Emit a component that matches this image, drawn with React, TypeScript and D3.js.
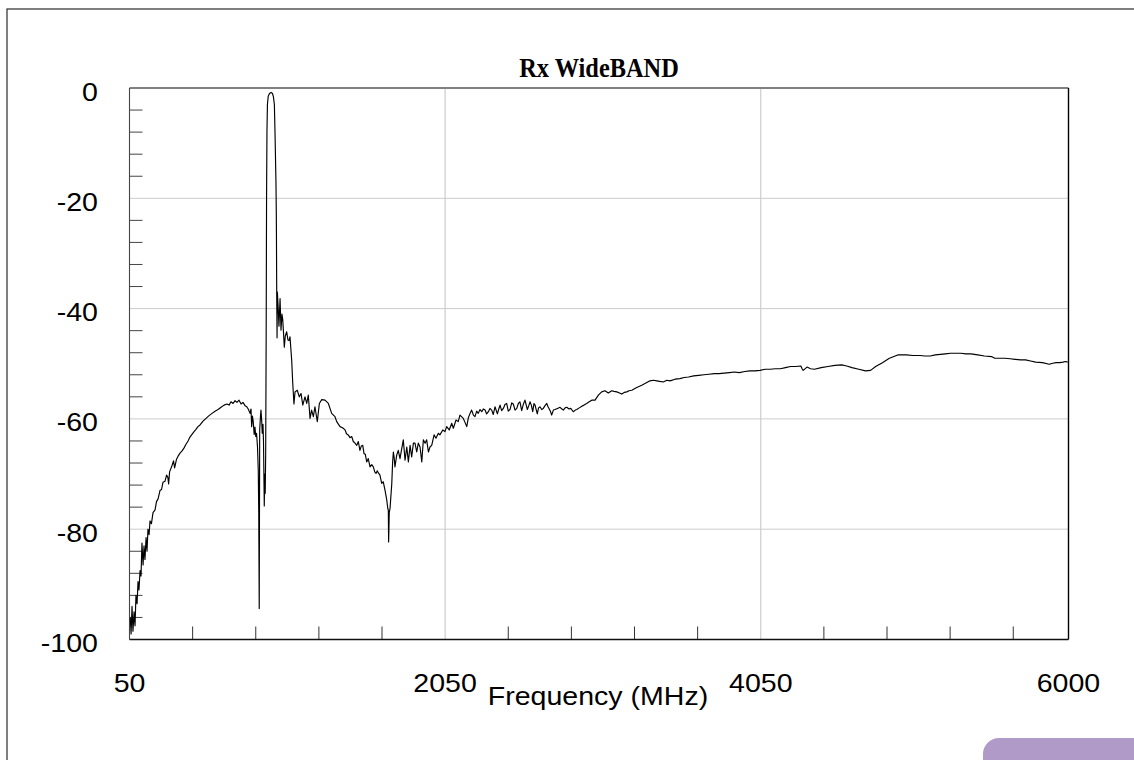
import React from 'react';
import * as d3 from 'd3';

const chartTitle = 'Rx WideBAND';
const xAxisTitle = 'Frequency (MHz)';
const xDomain: [number, number] = [50, 6000];
const yDomain: [number, number] = [-100, 0];
const xTickLabels = [50, 2050, 4050, 6000];
const xGridValues = [2050, 4050];
const xMinorTicks = [450, 850, 1250, 1650, 2450, 2850, 3250, 3650, 4450, 4850, 5250, 5650];
const yTickLabels = [0, -20, -40, -60, -80, -100];
const yGridValues = [-20, -40, -60, -80];
const yMinorTicks = [-4, -8, -12, -16, -24, -28, -32, -36, -44, -48, -52, -56, -64, -68, -72, -76, -84, -88, -92, -96];

// [frequency MHz, level dB]
const lowSkirt: [number, number][] = [
  [55, -96], [60, -99], [66, -94], [72, -98.5], [79, -95], [85, -97.5], [91, -92], [98, -93.5],
  [104, -89.5], [110, -91], [117, -87.5], [123, -88.5], [129, -82.5], [136, -86.5], [142, -83],
  [148, -85.5], [155, -81.5], [161, -84], [167, -80], [174, -81], [180, -78.5], [189, -79],
  [199, -77], [212, -76.5], [221, -75], [231, -74.5], [243, -73], [253, -72.8], [262, -71.5],
  [275, -71.3], [285, -70.2], [293, -70.6], [298, -71.8], [304, -69.6], [319, -68.5], [329, -67.6],
  [336, -68.9], [348, -67.3], [357, -66.8], [370, -66.2], [383, -65.8], [395, -65.3], [408, -64.6],
  [421, -64], [433, -63.3], [446, -62.8], [459, -62.3], [471, -61.9], [484, -61.4], [497, -61.1],
  [516, -60.4], [535, -59.9], [554, -59.4], [573, -59.0], [592, -58.6], [611, -58.3], [630, -57.9],
  [649, -57.5], [668, -57.3], [681, -57.5], [693, -56.9], [706, -57.2], [719, -56.7], [731, -57.0],
  [744, -56.6], [757, -57.3], [769, -57.0], [782, -57.6], [793, -57.8], [804, -58.3], [814, -59],
  [820, -58.2], [824, -61.4], [829, -59.5], [834, -60.5], [840, -62.8], [845, -61.5], [850, -63.2],
  [855, -62.6], [861, -65], [866, -69.3], [869, -77], [872, -94.4], [875, -62], [880, -59.5],
  [883, -58.4], [888, -60.5], [891, -62.6], [896, -61], [899, -64], [902, -71], [904, -75.8],
  [907, -70], [910, -73.5], [913, -66],
];

const passband: [number, number][] = [
  [916, -45], [918.5, -20], [921, -8], [924, -3], [929, -1.5], [937, -1], [947, -0.8], [956, -1],
  [962, -1.6], [968, -3], [972, -8], [976, -14], [978, -17], [980, -22], [981, -26], [983, -38],
  [985, -45.3], [987, -37], [993, -40.3], [997, -43.2], [1004, -38.2], [1010, -43.9], [1016, -41],
  [1021, -42], [1026, -44.4], [1031, -47], [1037, -45], [1046, -44.2], [1054, -45.7], [1061, -45.8],
  [1067, -45.1], [1078, -49.5], [1084, -53.3], [1092, -57.3], [1099, -55.1], [1113, -54.8],
  [1126, -56], [1137, -55.4], [1148, -57.5], [1162, -56], [1173, -57.2], [1183, -55.7], [1194, -59.9],
  [1204, -58.4], [1215, -59.6], [1225, -57.8], [1240, -60.5], [1253, -57.2], [1268, -56.5],
  [1289, -56.6], [1310, -57.2],
];

const stopbandNotch: [number, number][] = [
  [1331, -59], [1352, -59.6], [1363, -60.5], [1384, -61.4], [1400, -61.6], [1416, -62], [1425, -62.7],
  [1436, -62.9], [1447, -63.4], [1458, -63.2], [1468, -64.1], [1479, -64.4], [1490, -64.8],
  [1500, -64.1], [1510, -65.7], [1519, -64.9], [1528, -64.8], [1536, -66.3], [1544, -66.4],
  [1553, -67.8], [1563, -67.2], [1574, -68.7], [1585, -68.3], [1595, -68.7], [1604, -69.6],
  [1612, -69.9], [1620, -69.4], [1627, -69.8], [1637, -70.2], [1648, -71.7], [1658, -71.4],
  [1669, -72.9], [1680, -74.7], [1687, -76.3], [1690, -76.5], [1692, -82.3], [1696, -77],
  [1701, -76.2], [1712, -71.7], [1717, -68], [1722, -66], [1727, -67], [1732, -68.7], [1743, -66.6],
  [1753, -65.7], [1764, -67.2], [1775, -65.4], [1785, -63.8], [1796, -67.5], [1807, -65.1],
  [1817, -67.8], [1828, -64.8], [1838, -66.9], [1849, -64.4], [1859, -64.4], [1870, -66],
  [1880, -64.4], [1891, -65.1], [1902, -67.8], [1912, -63.8], [1923, -64.4], [1933, -63.8],
  [1944, -66], [1954, -65.1], [1965, -64.8], [1980, -62.9], [1992, -63.5], [2007, -62.6],
  [2017, -62.9], [2035, -62], [2049, -62.3], [2060, -61.4], [2076, -62], [2092, -60.8],
  [2102, -61.7], [2119, -60.2], [2133, -60.5], [2144, -59.3], [2165, -59.9], [2187, -61.4],
  [2197, -59.8], [2208, -59], [2218, -58.4], [2229, -59.3], [2239, -59.6],
];

const upperBand: [number, number][] = [
  [2250, -58.6], [2260, -59], [2271, -58.3], [2282, -58.7], [2292, -58.2], [2303, -58.4],
  [2313, -59.1], [2324, -58.7], [2334, -58.1], [2345, -58.4], [2355, -59.2], [2366, -57.8],
  [2381, -59.1], [2390, -58.2], [2398, -57.5], [2408, -58.5], [2419, -58.1], [2429, -57.4],
  [2440, -57.2], [2450, -58.6], [2461, -58.3], [2472, -57.1], [2482, -57.3], [2493, -58.4],
  [2504, -58.1], [2514, -57.2], [2524, -56.9], [2535, -58.5], [2545, -57.4], [2556, -56.6],
  [2571, -58.3], [2580, -57.6], [2588, -56.9], [2597, -57.6], [2605, -58.7], [2613, -57.2],
  [2620, -57.5], [2627, -58.3], [2634, -59.1], [2642, -58], [2651, -57.8], [2662, -58.3],
  [2672, -58.1], [2683, -57.6], [2694, -57.2], [2702, -57.8], [2708, -58.1], [2717, -58.6],
  [2725, -59.3], [2736, -58.4], [2746, -58.3], [2762, -58.1], [2778, -57.9], [2790, -58.2],
  [2799, -58.4], [2810, -58.0], [2821, -57.9], [2835, -58.2], [2846, -58.1], [2862, -58.7],
  [2875, -58.4], [2884, -58.3], [2900, -58.0], [2916, -57.7], [2930, -57.5], [2947, -57.2],
  [2963, -56.9], [2979, -56.6], [3000, -56.6], [3021, -55.7], [3042, -55.1], [3063, -54.9],
  [3084, -55.3], [3106, -54.9], [3120, -55.0], [3138, -55.1], [3155, -55.3], [3169, -55.5],
  [3185, -55.2], [3201, -55.1], [3216, -54.9], [3233, -54.8], [3264, -54.3], [3296, -53.9],
  [3328, -53.4], [3348, -53.1], [3370, -53.0], [3391, -53.1], [3410, -53.2], [3432, -53.3],
  [3455, -53.0], [3475, -53.1], [3507, -52.8], [3538, -52.7], [3565, -52.5], [3592, -52.4],
  [3625, -52.2], [3657, -52.1], [3690, -52.0], [3721, -51.9], [3755, -51.8], [3786, -51.8],
  [3818, -51.7], [3851, -51.6], [3883, -51.5], [3915, -51.6], [3948, -51.4], [3981, -51.3],
  [4013, -51.3], [4045, -51.2], [4078, -51.0], [4110, -51], [4142, -50.9], [4174, -50.9],
  [4207, -50.7], [4239, -50.5], [4270, -50.5], [4304, -50.4], [4312, -50.9], [4319, -51.2],
  [4343, -50.6], [4366, -50.9], [4390, -51], [4433, -50.7], [4476, -50.5], [4520, -50.3],
  [4563, -50.2], [4595, -50.4], [4628, -50.7], [4671, -51], [4714, -51.3], [4746, -51.2],
  [4778, -50.5], [4821, -49.8], [4865, -49], [4918, -48.4], [4972, -48.4], [5015, -48.5],
  [5059, -48.5], [5090, -48.6], [5124, -48.6], [5156, -48.4], [5188, -48.3], [5220, -48.2],
  [5253, -48.1], [5285, -48.1], [5318, -48.1], [5350, -48.2], [5382, -48.2], [5425, -48.4],
  [5468, -48.6], [5512, -48.7], [5533, -49], [5565, -49.0], [5598, -49], [5630, -49.1],
  [5662, -49.2], [5695, -49.3], [5728, -49.3], [5760, -49.5], [5792, -49.7], [5835, -49.8],
  [5878, -50.1], [5900, -49.9], [5922, -49.8], [5945, -49.8], [5965, -49.7], [5980, -49.6],
  [5995, -49.7],
];

const W = 1134;
const H = 760;
const plot = { left: 129.5, right: 1068.5, top: 88, bottom: 639.5 };
const sans = '"Liberation Sans", Arial, Helvetica, sans-serif';
const serif = '"Liberation Serif", "Times New Roman", serif';
const labelSize = 25.5;
const stretch = 1.12;

export default function App() {
  const x = d3.scaleLinear().domain(xDomain).range([plot.left, plot.right]);
  const y = d3.scaleLinear().domain(yDomain).range([plot.bottom, plot.top]);
  const data = [...lowSkirt, ...passband, ...stopbandNotch, ...upperBand];
  const line = d3
    .line<[number, number]>()
    .x((d) => x(d[0]))
    .y((d) => y(d[1]));

  const stretchedText = (key: string, tx: number, ty: number, text: string, anchor: string) => (
    <g key={key} transform={`translate(${tx},${ty}) scale(${stretch},1)`}>
      <text x={0} y={0} textAnchor={anchor} fontFamily={sans} fontSize={labelSize} fill="#000">
        {text}
      </text>
    </g>
  );

  return (
    <svg
      width={W}
      height={H}
      style={{ position: 'absolute', left: 0, top: 0, background: '#fff' }}
    >
      <rect x={0} y={0} width={W} height={H} fill="#fff" />
      {/* outer frame */}
      <rect x={7} y={9} width={W + 20} height={H + 20} fill="none" stroke="#2a2a2a" strokeWidth={1.2} />
      {/* purple tab */}
      <rect x={983} y={738} width={200} height={60} rx={16} ry={16} fill="#b09ac8" />

      {/* title */}
      <g transform="translate(599,77) scale(0.87,1)">
        <text
          x={0}
          y={0}
          textAnchor="middle"
          fontFamily={serif}
          fontWeight="bold"
          fontSize={28}
          fill="#000"
        >
          {chartTitle}
        </text>
      </g>

      {/* grid */}
      {yGridValues.map((v) => (
        <line key={`yg${v}`} x1={plot.left} x2={plot.right} y1={y(v)} y2={y(v)} stroke="#cccccc" strokeWidth={1} />
      ))}
      {xGridValues.map((v) => (
        <line key={`xg${v}`} x1={x(v)} x2={x(v)} y1={plot.top} y2={plot.bottom} stroke="#cccccc" strokeWidth={1.2} />
      ))}

      {/* minor ticks */}
      {xMinorTicks.map((v) => (
        <line key={`xm${v}`} x1={x(v)} x2={x(v)} y1={plot.bottom} y2={plot.bottom - 13} stroke="#333" strokeWidth={1} />
      ))}
      {yMinorTicks.map((v) => (
        <line key={`ym${v}`} x1={plot.left} x2={plot.left + 13} y1={y(v)} y2={y(v)} stroke="#444" strokeWidth={1} />
      ))}

      {/* plot frame */}
      <line x1={plot.left} x2={plot.right} y1={plot.top} y2={plot.top} stroke="#808080" strokeWidth={1.8} />
      <line x1={plot.left} x2={plot.left} y1={plot.top} y2={plot.bottom} stroke="#444" strokeWidth={1.1} />
      <line x1={plot.right} x2={plot.right} y1={plot.top} y2={plot.bottom} stroke="#000" strokeWidth={1.4} />
      <line x1={plot.left} x2={plot.right} y1={plot.bottom} y2={plot.bottom} stroke="#111" strokeWidth={1.4} />

      {/* data */}
      <path d={line(data) || ''} fill="none" stroke="#000" strokeWidth={1.15} strokeLinejoin="round" />

      {/* y labels */}
      {yTickLabels.map((v) => stretchedText(`yl${v}`, 98, y(v) + 12.5, String(v), 'end'))}
      {/* x labels */}
      {xTickLabels.map((v) => stretchedText(`xl${v}`, x(v), 692, String(v), 'middle'))}
      {stretchedText('xt', 598, 705, xAxisTitle, 'middle')}
    </svg>
  );
}
